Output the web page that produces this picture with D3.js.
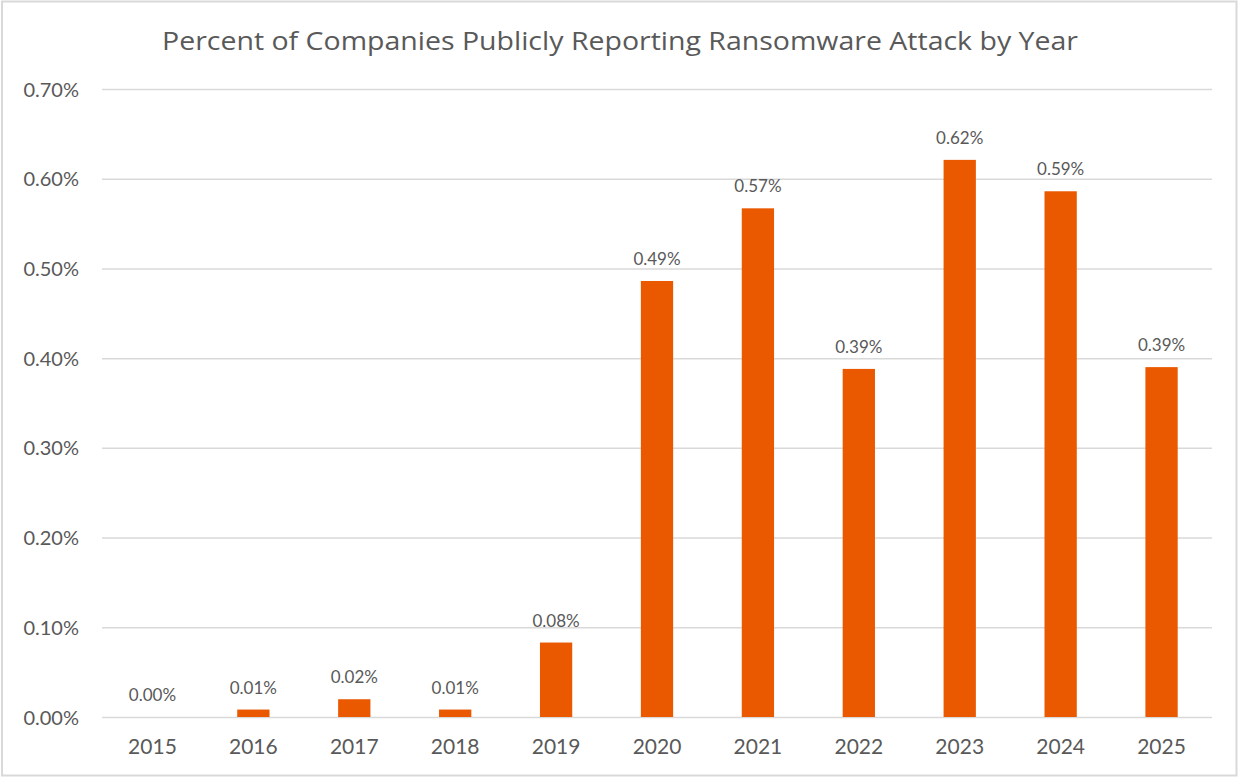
<!DOCTYPE html>
<html>
<head>
<meta charset="utf-8">
<script src="https://cdn.jsdelivr.net/npm/d3@7"></script>
<style>
  html, body { margin: 0; padding: 0; background: #ffffff; }
  svg { display: block; }
  text { font-family: Lato, "Open Sans", sans-serif; fill: #595959; }
</style>
</head>
<body>
<svg id="chart" width="1238" height="778"></svg>
<script>
// Share of companies publicly reporting a ransomware attack, per year (percent)
const years = ["2015", "2016", "2017", "2018", "2019", "2020", "2021", "2022", "2023", "2024", "2025"];
const percentValues = [0.000, 0.0083, 0.0198, 0.0083, 0.083, 0.486, 0.567, 0.388, 0.621, 0.586, 0.390];
const yTicks = [0, 0.1, 0.2, 0.3, 0.4, 0.5, 0.6, 0.7];
const chartTitle = "Percent of Companies Publicly Reporting Ransomware Attack by Year";

const W = 1238, H = 778;
const margin = { left: 102, right: 26, top: 89, bottom: 61 };
const svg = d3.select("#chart");

// outer frame
svg.append("rect")
  .attr("x", 2).attr("y", 1.5)
  .attr("width", W - 3.5).attr("height", H - 4)
  .attr("fill", "#ffffff")
  .attr("stroke", "#d9d9d9")
  .attr("stroke-width", 2);

const x = d3.scaleBand()
  .domain(years)
  .range([margin.left, W - margin.right])
  .paddingInner(0.68)
  .paddingOuter(0.34);

const y = d3.scaleLinear()
  .domain([0, 0.7])
  .range([H - margin.bottom, margin.top]);

const fmt = v => v.toFixed(2) + "%";

// horizontal gridlines and left tick labels
const yAxis = d3.axisLeft(y)
  .tickValues(yTicks)
  .tickSize(-(W - margin.left - margin.right))
  .tickPadding(23)
  .tickFormat(fmt);

const gy = svg.append("g")
  .attr("transform", `translate(${margin.left},0)`)
  .call(yAxis);
gy.select(".domain").remove();
gy.selectAll(".tick line").attr("stroke", "#d9d9d9").attr("stroke-width", 1.5);
gy.selectAll(".tick text")
  .attr("fill", "#595959")
  .style("font-size", "20px")
  .attr("dy", "0.35em");

// category axis along the bottom
const xAxis = d3.axisBottom(x).tickSize(0).tickPadding(22);
const gx = svg.append("g")
  .attr("transform", `translate(0,${H - margin.bottom})`)
  .call(xAxis);
gx.select(".domain").remove();
gx.selectAll(".tick text")
  .attr("fill", "#595959")
  .style("font-size", "21px");

// bars
const rows = years.map((yr, i) => ({ year: yr, value: percentValues[i] }));
svg.append("g")
  .selectAll("rect")
  .data(rows)
  .join("rect")
  .attr("x", d => x(d.year))
  .attr("y", d => y(d.value))
  .attr("width", x.bandwidth())
  .attr("height", d => y(0) - y(d.value))
  .attr("fill", "#EA5900");

// value labels above bars
svg.append("g")
  .selectAll("text")
  .data(rows)
  .join("text")
  .attr("x", d => x(d.year) + x.bandwidth() / 2)
  .attr("y", d => y(d.value) - 16)
  .attr("text-anchor", "middle")
  .style("font-size", "17px")
  .text(d => fmt(d.value));

// title
svg.append("text")
  .attr("x", 620)
  .attr("y", 50)
  .attr("text-anchor", "middle")
  .attr("textLength", 916)
  .attr("lengthAdjust", "spacingAndGlyphs")
  .style("font-family", "'Open Sans', Lato, sans-serif")
  .style("font-size", "26px")
  .text(chartTitle);
</script>
</body>
</html>
